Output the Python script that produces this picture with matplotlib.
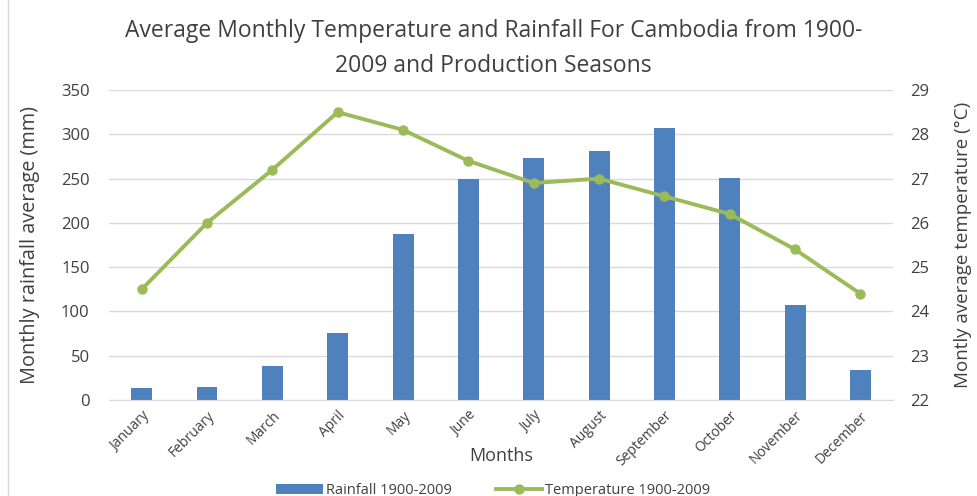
import numpy as np
import matplotlib
matplotlib.use('Agg')
import matplotlib.pyplot as plt
from matplotlib.lines import Line2D

plt.rcParams['font.family'] = ['Open Sans', 'DejaVu Sans']

# data
months = ['January', 'February', 'March', 'April', 'May', 'June', 'July',
          'August', 'September', 'October', 'November', 'December']
rainfall = [14, 15, 38, 76, 188, 249, 273, 281, 307, 251, 107, 34]
temperature = [24.5, 26.0, 27.2, 28.5, 28.1, 27.4, 26.9, 27.0, 26.6, 26.2, 25.4, 24.4]
rain_ticks = [0, 50, 100, 150, 200, 250, 300, 350]
temp_ticks = [22, 23, 24, 25, 26, 27, 28, 29]

bar_color = '#4F81BD'
line_color = '#9BBB59'
text_color = '#404040'

fig = plt.figure(figsize=(9.77, 4.96), dpi=100)
ax = fig.add_axes([0.1116, 0.1935, 0.8025, 0.625])
x = np.arange(len(months))

bars = ax.bar(x, rainfall, width=0.32, color=bar_color, zorder=2,
              label='Rainfall 1900-2009')
ax.set_ylim(0, 350)
ax.set_xlim(-0.5, len(months) - 0.5)
ax.set_yticks(rain_ticks)
ax.grid(axis='y', color='#D9D9D9', linewidth=1, zorder=0)
ax.set_axisbelow(True)
for s in ['top', 'right', 'left']:
    ax.spines[s].set_visible(False)
ax.spines['bottom'].set_color('#D9D9D9')
ax.tick_params(axis='both', length=0, colors=text_color)
ax.tick_params(axis='y', labelsize=12, pad=14)
ax.set_xticks(x)
ax.set_xticklabels(months, rotation=45, ha='right', rotation_mode='anchor',
                   fontsize=10, color=text_color)
ax.tick_params(axis='x', pad=6)
ax.set_xlabel('Months', fontsize=13, color=text_color, labelpad=-16)
ax.set_ylabel('Monthly rainfall average (mm)', fontsize=14.3, color=text_color)
ax.yaxis.set_label_coords(-0.088, 0.5)

ax2 = ax.twinx()
line, = ax2.plot(x, temperature, color=line_color, linewidth=2.8, marker='o',
                 markersize=6.5, label='Temperature 1900-2009', zorder=3)
ax2.set_ylim(22, 29)
ax2.set_yticks(temp_ticks)
for s in ['top', 'right', 'left', 'bottom']:
    ax2.spines[s].set_visible(False)
ax2.tick_params(axis='y', length=0, colors=text_color, labelsize=12, pad=12)
ax2.set_ylabel('Montly average temperature (°C)', fontsize=13.5, color=text_color)
ax2.yaxis.set_label_coords(1.078, 0.5)

fig.suptitle('Average Monthly Temperature and Rainfall For Cambodia from 1900-\n2009 and Production Seasons',
             fontsize=16.5, color=text_color, x=0.505, y=0.962, linespacing=1.6)

fig.legend(handles=[bars, line], loc='lower center', bbox_to_anchor=(0.505, -0.03),
           ncol=2, frameon=False, fontsize=10.5, handlelength=3.2,
           handletextpad=0.2, columnspacing=3, labelcolor=text_color)

# chart area border on the left edge
fig.add_artist(Line2D([0.008, 0.008], [0, 1], transform=fig.transFigure,
                      color='#D9D9D9', linewidth=1))

fig.savefig('out.png', dpi=100)
